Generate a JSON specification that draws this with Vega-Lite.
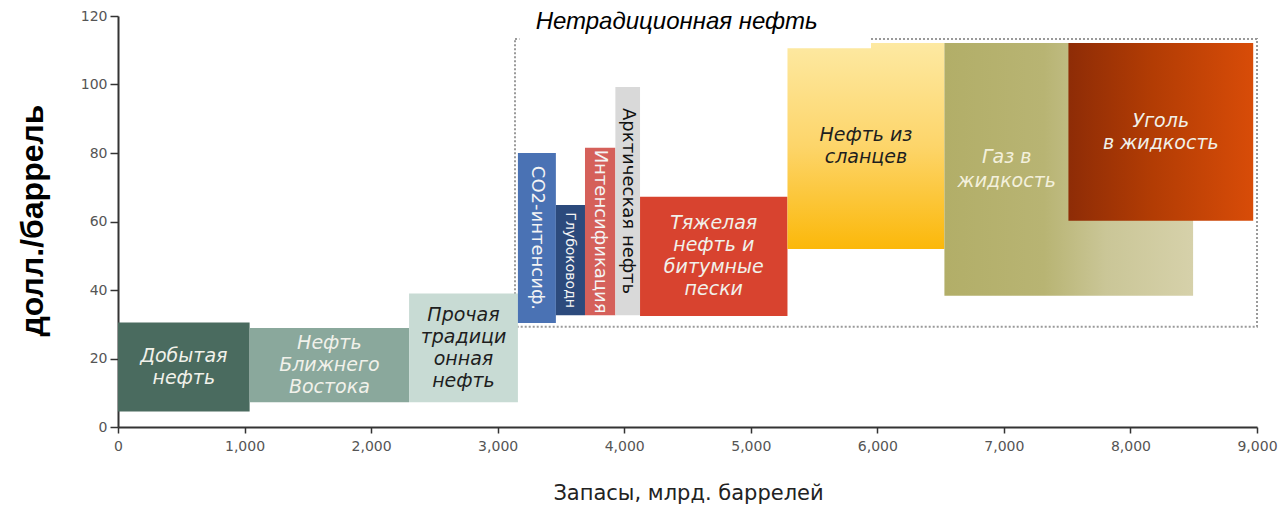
{
  "$schema": "https://vega.github.io/schema/vega-lite/v6.json",
  "width": 1139,
  "height": 411,
  "autosize": "none",
  "padding": {"left": 118, "top": 16, "right": 29, "bottom": 80},
  "background": "white",
  "config": {
    "view": {"stroke": null},
    "axis": {"grid": false}
  },
  "datasets": {
    "segments": [
      {"name": "Добытая нефть", "label": "Добытая\nнефть", "x": 0, "x2": 1040, "y": 4.5, "y2": 30.5},
      {"name": "Нефть Ближнего Востока", "label": "Нефть\nБлижнего\nВостока", "x": 1040, "x2": 2300, "y": 7.2, "y2": 28.9},
      {"name": "Прочая традиционная нефть", "label": "Прочая\nтрадици\nонная\nнефть", "x": 2300, "x2": 3160, "y": 7.2, "y2": 39},
      {"name": "CO2-интенсификация", "label": "CO2-интенсиф.", "x": 3160, "x2": 3460, "y": 30.4, "y2": 80},
      {"name": "Глубоководная нефть", "label": "Глубоководн", "x": 3460, "x2": 3690, "y": 32.6, "y2": 64.8},
      {"name": "Интенсификация", "label": "Интенсификация", "x": 3690, "x2": 3930, "y": 32.6, "y2": 81.5},
      {"name": "Арктическая нефть", "label": "Арктическая нефть", "x": 3930, "x2": 4125, "y": 32.6, "y2": 99.3},
      {"name": "Тяжелая нефть и битумные пески", "label": "Тяжелая\nнефть и\nбитумные\nпески", "x": 4125, "x2": 5290, "y": 32.4, "y2": 67.2},
      {"name": "Нефть из сланцев", "label": "Нефть из\nсланцев", "x": 5290, "x2": 6530, "y": 52, "y2": 112.1},
      {"name": "Газ в жидкость", "label": "Газ в\nжидкость", "x": 6530, "x2": 8495, "y": 38.3, "y2": 112.1},
      {"name": "Уголь в жидкость", "label": "Уголь\nв жидкость", "x": 7510, "x2": 8970, "y": 60.2, "y2": 112.1}
    ],
    "region": [
      {"x": 3137, "x2": 9000, "y": 29.3, "y2": 113.3}
    ],
    "heading": [
      {"x": 3172, "x2": 5950, "y": 110.6, "y2": 125, "tx": 3300, "ty": 118.2, "title": "Нетрадиционная нефть"}
    ]
  },
  "encoding": {
    "x": {
      "field": "x", "type": "quantitative",
      "scale": {"domain": [0, 9000], "nice": false, "zero": false},
      "axis": {
        "title": "Запасы, млрд. баррелей",
        "values": [0, 1000, 2000, 3000, 4000, 5000, 6000, 7000, 8000, 9000],
        "format": ",d",
        "domainColor": "#333", "domainWidth": 2,
        "tickColor": "#333", "tickWidth": 1.5, "tickSize": 6,
        "labelFont": "DejaVu Sans", "labelFontSize": 14, "labelColor": "#555",
        "labelPadding": 6, "labelFlush": false,
        "titleFont": "DejaVu Sans", "titleFontSize": 21, "titleFontWeight": "normal", "titleColor": "#222",
        "titleX": 570, "titleY": 66, "titleBaseline": "middle", "titleAlign": "center"
      }
    },
    "y": {
      "field": "y", "type": "quantitative",
      "scale": {"domain": [0, 120], "nice": false},
      "axis": {
        "title": "долл./баррель",
        "values": [0, 20, 40, 60, 80, 100, 120],
        "domainColor": "#333", "domainWidth": 2,
        "tickColor": "#333", "tickWidth": 1.5, "tickSize": 8,
        "labelFont": "DejaVu Sans", "labelFontSize": 14, "labelColor": "#555",
        "labelPadding": 3,
        "titleFont": "Liberation Sans", "titleFontSize": 32, "titleFontWeight": "bold", "titleColor": "#000",
        "titleX": -86, "titleY": 204, "titleBaseline": "middle", "titleAlign": "center", "titleAngle": -90
      }
    }
  },
  "layer": [
    {
      "data": {"name": "region"},
      "mark": {"type": "rect", "fill": null, "stroke": "#9a9a9a", "strokeWidth": 2, "strokeDash": [2, 2]},
      "encoding": {"x2": {"field": "x2"}, "y2": {"field": "y2"}}
    },
    {
      "data": {"name": "segments"},
      "transform": [
        {"filter": "indexof(['Нефть из сланцев', 'Газ в жидкость', 'Уголь в жидкость'], datum.name) < 0"}
      ],
      "mark": {"type": "rect"},
      "encoding": {
        "x2": {"field": "x2"},
        "y2": {"field": "y2"},
        "color": {
          "field": "name", "type": "nominal", "legend": null,
          "scale": {
            "domain": ["Добытая нефть", "Нефть Ближнего Востока", "Прочая традиционная нефть", "CO2-интенсификация", "Глубоководная нефть", "Интенсификация", "Арктическая нефть", "Тяжелая нефть и битумные пески"],
            "range": ["#4a6b5f", "#8aa89c", "#c8dbd4", "#4a72b4", "#2c4a7c", "#d5605a", "#d9d9d9", "#d8432f"]
          }
        }
      }
    },
    {
      "data": {"name": "segments"},
      "transform": [{"filter": "datum.name === 'Нефть из сланцев'"}],
      "mark": {
        "type": "rect",
        "fill": {"gradient": "linear", "x1": 0, "y1": 0, "x2": 0, "y2": 1,
          "stops": [{"offset": 0, "color": "#fde9a2"}, {"offset": 0.5, "color": "#fdd56a"}, {"offset": 1, "color": "#fbb80a"}]}
      },
      "encoding": {"x2": {"field": "x2"}, "y2": {"field": "y2"}}
    },
    {
      "data": {"name": "segments"},
      "transform": [{"filter": "datum.name === 'Газ в жидкость'"}],
      "mark": {
        "type": "rect",
        "fill": {"gradient": "linear", "x1": 0, "y1": 0, "x2": 1, "y2": 0,
          "stops": [{"offset": 0, "color": "#b2ae68"}, {"offset": 0.4, "color": "#b8b473"}, {"offset": 0.65, "color": "#cac697"}, {"offset": 1, "color": "#d6d1aa"}]}
      },
      "encoding": {"x2": {"field": "x2"}, "y2": {"field": "y2"}}
    },
    {
      "data": {"name": "segments"},
      "transform": [{"filter": "datum.name === 'Уголь в жидкость'"}],
      "mark": {
        "type": "rect",
        "fill": {"gradient": "linear", "x1": 0, "y1": 0, "x2": 1, "y2": 0,
          "stops": [{"offset": 0, "color": "#8e2c06"}, {"offset": 0.45, "color": "#b23c04"}, {"offset": 1, "color": "#d84c08"}]}
      },
      "encoding": {"x2": {"field": "x2"}, "y2": {"field": "y2"}}
    },
    {
      "data": {"name": "heading"},
      "mark": {"type": "rect", "fill": "white"},
      "encoding": {"x2": {"field": "x2"}, "y2": {"field": "y2"}}
    },
    {
      "data": {"name": "heading"},
      "transform": [
        {"calculate": "datum.tx", "as": "x"},
        {"calculate": "datum.ty", "as": "y"}
      ],
      "mark": {"type": "text", "align": "left", "baseline": "middle", "font": "Liberation Sans", "fontStyle": "italic", "fontSize": 24, "color": "#000"},
      "encoding": {"text": {"field": "title"}}
    },
    {
      "data": {"name": "segments"},
      "transform": [
        {"filter": "indexof(['CO2-интенсификация', 'Глубоководная нефть', 'Интенсификация', 'Арктическая нефть', 'Газ в жидкость'], datum.name) < 0"},
        {"calculate": "(datum.x + datum.x2) / 2", "as": "x"},
        {"calculate": "(datum.y + datum.y2) / 2 + (length(split(datum.label, '\\n')) - 1) * 11 / 3.425", "as": "y"}
      ],
      "mark": {"type": "text", "align": "center", "baseline": "middle", "font": "DejaVu Sans", "fontStyle": "italic", "fontSize": 19, "lineBreak": "\n", "lineHeight": 22},
      "encoding": {
        "text": {"field": "label"},
        "color": {
          "condition": {"test": "indexof(['Прочая традиционная нефть', 'Нефть из сланцев'], datum.name) >= 0", "value": "#1e1e1e"},
          "value": "#f1f1ea"
        }
      }
    },
    {
      "data": {"name": "segments"},
      "transform": [
        {"filter": "datum.name === 'Газ в жидкость'"},
        {"calculate": "(datum.x + datum.x2) / 2", "as": "x"},
        {"calculate": "(datum.y + datum.y2) / 2 + (length(split(datum.label, '\\n')) - 1) * 12 / 3.425", "as": "y"}
      ],
      "mark": {"type": "text", "align": "center", "baseline": "middle", "font": "DejaVu Sans", "fontStyle": "italic", "fontSize": 19, "lineBreak": "\n", "lineHeight": 24, "dx": -62, "color": "#f3f0dc"},
      "encoding": {"text": {"field": "label"}}
    },
    {
      "data": {"name": "segments"},
      "transform": [
        {"filter": "indexof(['CO2-интенсификация', 'Глубоководная нефть', 'Интенсификация', 'Арктическая нефть'], datum.name) >= 0"},
        {"calculate": "(datum.x + datum.x2) / 2", "as": "x"},
        {"calculate": "(datum.y + datum.y2) / 2", "as": "y"}
      ],
      "mark": {"type": "text", "align": "center", "baseline": "middle", "font": "DejaVu Sans", "angle": 90},
      "encoding": {
        "text": {"field": "label"},
        "size": {
          "condition": {"test": "datum.name === 'Глубоководная нефть'", "value": 14},
          "value": 18
        },
        "color": {
          "condition": {"test": "datum.name === 'Арктическая нефть'", "value": "#111"},
          "value": "#f4f4f4"
        }
      }
    }
  ]
}
